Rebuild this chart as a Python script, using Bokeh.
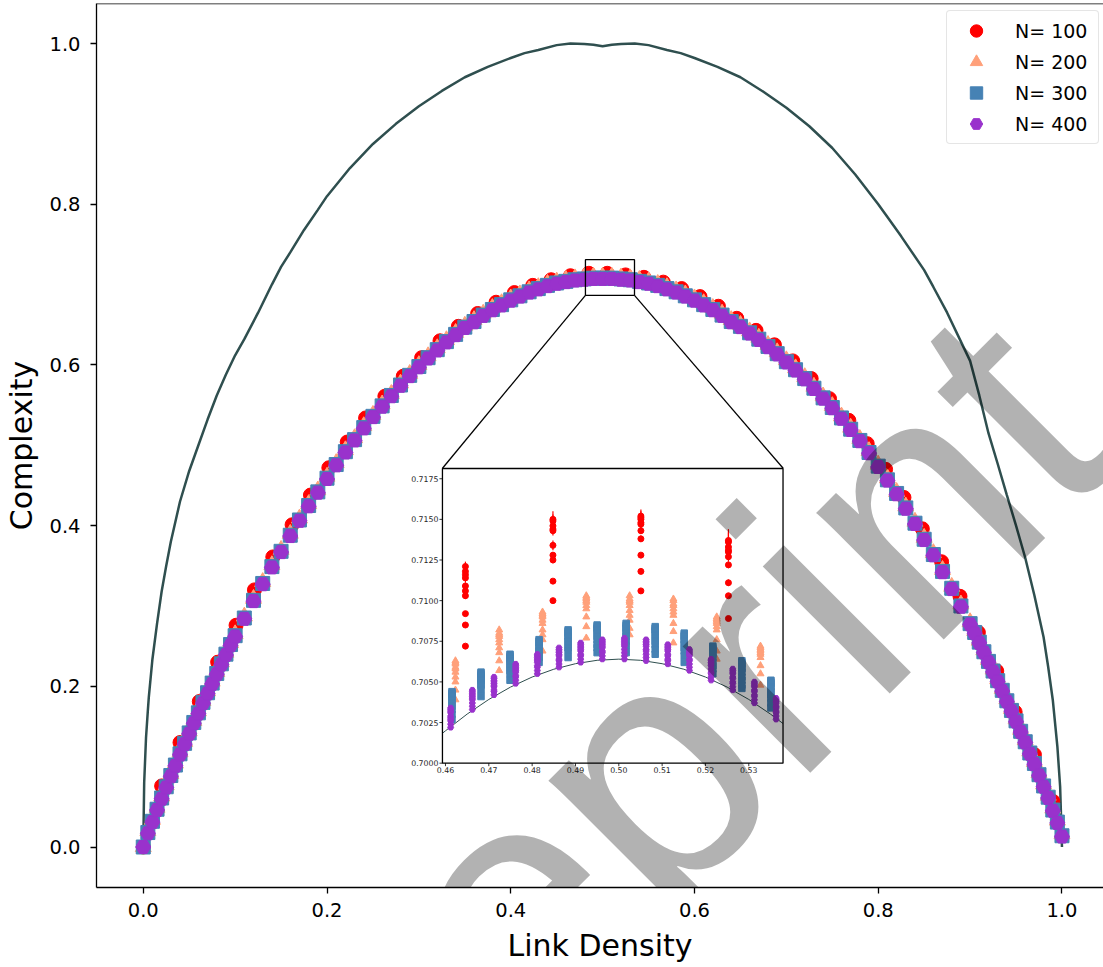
import math
from bokeh.plotting import figure
from bokeh.models import (Range1d, FixedTicker, NumeralTickFormatter, Legend,
                          LegendItem, Label, Span)
from bokeh.core.properties import value
from bokeh.embed import file_html
from bokeh.resources import INLINE

FONT = "DejaVu Sans"
MARK_FONT = "Liberation Sans"

# ---------------- data ----------------
UPPER_X = [0.0, 0.001, 0.003, 0.005, 0.006, 0.01, 0.015, 0.02, 0.025, 0.03, 0.04, 0.05,
           0.06, 0.07, 0.08, 0.09, 0.10, 0.11, 0.125, 0.14, 0.15, 0.16, 0.175, 0.19,
           0.20, 0.225, 0.25, 0.275, 0.30, 0.325, 0.35, 0.375, 0.40, 0.415, 0.43,
           0.45, 0.465, 0.48, 0.49, 0.50, 0.51, 0.52, 0.535, 0.55, 0.57, 0.585,
           0.60, 0.625, 0.65, 0.675, 0.70, 0.725, 0.75, 0.775, 0.80, 0.81, 0.825,
           0.85, 0.86, 0.875, 0.89, 0.90, 0.91, 0.92, 0.93, 0.94, 0.95, 0.96,
           0.97, 0.98, 0.985, 0.99, 0.995, 0.998, 1.0]
UPPER_Y = [0.0, 0.08, 0.136, 0.17, 0.186, 0.234, 0.278, 0.318, 0.350, 0.380, 0.430, 0.468,
           0.500, 0.532, 0.562, 0.588, 0.612, 0.632, 0.665, 0.700, 0.722, 0.740, 0.768, 0.793,
           0.810, 0.845, 0.875, 0.900, 0.922, 0.941, 0.958, 0.971, 0.982, 0.988, 0.992,
           0.998, 1.0, 0.9995, 0.9985, 0.9965, 0.9985, 0.9995, 1.0, 0.998, 0.992, 0.988,
           0.982, 0.971, 0.958, 0.940, 0.920, 0.897, 0.870, 0.837, 0.800, 0.784, 0.760,
           0.718, 0.697, 0.665, 0.629, 0.605, 0.562, 0.515, 0.477, 0.438, 0.400, 0.360,
           0.313, 0.261, 0.224, 0.183, 0.125, 0.075, 0.0]

MAIN_X = [0.000, 0.005, 0.010, 0.015, 0.020, 0.025, 0.030, 0.035, 0.040, 0.045,
          0.050, 0.055, 0.060, 0.065, 0.070, 0.075, 0.080, 0.085, 0.090, 0.095, 0.100,
          0.11, 0.12, 0.13, 0.14, 0.15, 0.16, 0.17, 0.18, 0.19, 0.20,
          0.21, 0.22, 0.23, 0.24, 0.25, 0.26, 0.27, 0.28, 0.29, 0.30,
          0.31, 0.32, 0.33, 0.34, 0.35, 0.36, 0.37, 0.38, 0.39, 0.40,
          0.41, 0.42, 0.43, 0.44, 0.45, 0.46, 0.47, 0.48, 0.49, 0.50,
          0.51, 0.52, 0.53, 0.54, 0.55, 0.56, 0.57, 0.58, 0.59, 0.60,
          0.61, 0.62, 0.63, 0.64, 0.65, 0.66, 0.67, 0.68, 0.69, 0.70,
          0.71, 0.72, 0.73, 0.74, 0.75, 0.76, 0.77, 0.78, 0.79, 0.80,
          0.81, 0.82, 0.83, 0.84, 0.85, 0.86, 0.87, 0.88, 0.89,
          0.900, 0.905, 0.910, 0.915, 0.920, 0.925, 0.930, 0.935, 0.940, 0.945,
          0.950, 0.955, 0.960, 0.965, 0.970, 0.975, 0.980, 0.985, 0.990, 0.995, 1.000]

PURPLE_MAIN = [0.000, 0.017, 0.031, 0.046, 0.060, 0.074, 0.088, 0.101, 0.115, 0.128,
               0.141, 0.154, 0.166, 0.179, 0.191, 0.203, 0.215, 0.227, 0.239, 0.251, 0.262,
               0.284, 0.306, 0.327, 0.348, 0.367, 0.387, 0.406, 0.424, 0.441, 0.458,
               0.475, 0.491, 0.506, 0.521, 0.535, 0.548, 0.561, 0.574, 0.586, 0.597,
               0.608, 0.618, 0.628, 0.637, 0.646, 0.653, 0.661, 0.668, 0.674, 0.680,
               0.685, 0.690, 0.694, 0.698, 0.701, 0.703, 0.705, 0.706, 0.707, 0.707,
               0.707, 0.706, 0.705, 0.703, 0.701, 0.698, 0.694, 0.690, 0.685, 0.680,
               0.674, 0.668, 0.661, 0.653, 0.647, 0.639, 0.631, 0.622, 0.613, 0.603,
               0.593, 0.582, 0.570, 0.558, 0.546, 0.533, 0.519, 0.505, 0.490, 0.473,
               0.456, 0.439, 0.421, 0.402, 0.382, 0.363, 0.342, 0.321, 0.299,
               0.277, 0.266, 0.254, 0.242, 0.230, 0.218, 0.206, 0.194, 0.181, 0.169,
               0.156, 0.143, 0.130, 0.116, 0.103, 0.089, 0.075, 0.061, 0.045, 0.030, 0.013]

BLUE_MAIN = [0.000, 0.018, 0.032, 0.047, 0.061, 0.075, 0.089, 0.102, 0.116, 0.129,
             0.142, 0.155, 0.167, 0.180, 0.192, 0.204, 0.216, 0.228, 0.240, 0.252, 0.263,
             0.285, 0.307, 0.328, 0.349, 0.368, 0.388, 0.407, 0.425, 0.442, 0.459,
             0.476, 0.492, 0.507, 0.522, 0.536, 0.549, 0.562, 0.575, 0.587, 0.598,
             0.609, 0.619, 0.629, 0.638, 0.647, 0.654, 0.662, 0.669, 0.675, 0.681,
             0.686, 0.691, 0.695, 0.699, 0.702, 0.704, 0.706, 0.707, 0.708, 0.708,
             0.708, 0.707, 0.706, 0.704, 0.702, 0.699, 0.695, 0.691, 0.686, 0.681,
             0.675, 0.669, 0.662, 0.654, 0.648, 0.640, 0.632, 0.623, 0.614, 0.604,
             0.594, 0.583, 0.571, 0.559, 0.547, 0.534, 0.520, 0.506, 0.491, 0.474,
             0.457, 0.440, 0.422, 0.403, 0.383, 0.364, 0.343, 0.322, 0.300,
             0.278, 0.267, 0.255, 0.243, 0.231, 0.219, 0.207, 0.195, 0.182, 0.170,
             0.157, 0.144, 0.131, 0.117, 0.104, 0.090, 0.076, 0.062, 0.046, 0.031, 0.014]

ORANGE_MAIN = [0.000, 0.020, 0.034, 0.049, 0.063, 0.077, 0.091, 0.104, 0.118, 0.131,
               0.144, 0.157, 0.169, 0.182, 0.194, 0.206, 0.218, 0.230, 0.242, 0.254, 0.265,
               0.287, 0.309, 0.330, 0.351, 0.370, 0.390, 0.409, 0.427, 0.444, 0.461,
               0.478, 0.494, 0.509, 0.524, 0.538, 0.551, 0.564, 0.577, 0.589, 0.600,
               0.611, 0.621, 0.631, 0.640, 0.649, 0.656, 0.664, 0.671, 0.677, 0.683,
               0.688, 0.693, 0.697, 0.701, 0.704, 0.706, 0.708, 0.709, 0.710, 0.710,
               0.710, 0.709, 0.708, 0.706, 0.704, 0.701, 0.697, 0.693, 0.688, 0.683,
               0.677, 0.671, 0.664, 0.656, 0.650, 0.642, 0.634, 0.625, 0.616, 0.606,
               0.596, 0.585, 0.573, 0.561, 0.549, 0.536, 0.522, 0.508, 0.493, 0.476,
               0.459, 0.442, 0.424, 0.405, 0.385, 0.366, 0.345, 0.324, 0.302,
               0.280, 0.269, 0.257, 0.245, 0.233, 0.221, 0.209, 0.197, 0.184, 0.172,
               0.159, 0.146, 0.133, 0.119, 0.106, 0.092, 0.078, 0.064, 0.048, 0.033, 0.016]

RED_MAIN_X = [0.000, 0.020, 0.040, 0.061, 0.081, 0.101, 0.121, 0.141, 0.162, 0.182,
              0.202, 0.222, 0.242, 0.263, 0.283, 0.303, 0.323, 0.343, 0.364, 0.384,
              0.404, 0.424, 0.444, 0.465, 0.485, 0.505, 0.525, 0.545, 0.566, 0.586,
              0.606, 0.626, 0.646, 0.667, 0.687, 0.707, 0.727, 0.747, 0.768, 0.788,
              0.808, 0.828, 0.848, 0.869, 0.889, 0.909, 0.929, 0.949, 0.970, 0.990]
RED_MAIN_Y = [0.000, 0.076, 0.130, 0.181, 0.230, 0.276, 0.320, 0.361, 0.401, 0.438,
              0.472, 0.504, 0.534, 0.561, 0.586, 0.609, 0.630, 0.648, 0.664, 0.678,
              0.690, 0.699, 0.706, 0.711, 0.714, 0.714, 0.712, 0.709, 0.703, 0.695,
              0.685, 0.673, 0.658, 0.643, 0.625, 0.605, 0.583, 0.558, 0.531, 0.502,
              0.470, 0.435, 0.396, 0.355, 0.312, 0.267, 0.219, 0.168, 0.115, 0.057]

# inset data
INSET_CURVE_X = [0.4593, 0.460, 0.465, 0.470, 0.475, 0.480, 0.485, 0.490, 0.495,
                 0.500, 0.505, 0.510, 0.515, 0.520, 0.525, 0.530, 0.535, 0.5379]
INSET_CURVE_Y = [0.70184, 0.70199, 0.70302, 0.70392, 0.70468, 0.70530, 0.70578, 0.70612, 0.70633,
                 0.70640, 0.70633, 0.70612, 0.70578, 0.70530, 0.70468, 0.70392, 0.70302, 0.70244]

RED_INSET_X = [0.4646, 0.4848, 0.5051, 0.5253]
RED_INSET_Y = [
    [0.7121, 0.7118, 0.7116, 0.7114, 0.7109, 0.7106, 0.7103, 0.7092, 0.7085, 0.7072],
    [0.7150, 0.7149, 0.7146, 0.7144, 0.7143, 0.7134, 0.7128, 0.7125, 0.7112, 0.7100],
    [0.7152, 0.7151, 0.7150, 0.7148, 0.7147, 0.7143, 0.7138, 0.7128, 0.7118, 0.7106],
    [0.7137, 0.7136, 0.7133, 0.7131, 0.7130, 0.7127, 0.7122, 0.7111, 0.7103, 0.7089]]
RED_INSET_ERR = [
    [0.0003, 0.0003, 0.0003, 0.0003, 0.0002, 0.0002, 0.0002, 0.0001, 0.0001, 0.00005],
    [0.0005, 0.0004, 0.0004, 0.0003, 0.0003, 0.0003, 0.0002, 0.0002, 0.0001, 0.00005],
    [0.0004, 0.0004, 0.0003, 0.0003, 0.0003, 0.0002, 0.0002, 0.0001, 0.0001, 0.00005],
    [0.0007, 0.0006, 0.0005, 0.0004, 0.0004, 0.0003, 0.0002, 0.0002, 0.0001, 0.00005]]

ORANGE_INSET_X = [0.4623, 0.4724, 0.4824, 0.4925, 0.5025, 0.5126, 0.5226, 0.5327]
ORANGE_INSET_Y = [
    [0.7063, 0.7062, 0.7061, 0.7059, 0.7058, 0.7056, 0.7053, 0.7050, 0.7045, 0.7039],
    [0.7082, 0.7080, 0.7079, 0.7078, 0.7076, 0.7074, 0.7071, 0.7068, 0.7063, 0.7057],
    [0.7093, 0.7092, 0.7091, 0.7090, 0.7088, 0.7086, 0.7082, 0.7079, 0.7076, 0.7069],
    [0.7103, 0.7102, 0.7101, 0.7100, 0.7099, 0.7097, 0.7095, 0.7090, 0.7084, 0.7077],
    [0.7103, 0.7101, 0.7100, 0.7099, 0.7097, 0.7094, 0.7091, 0.7088, 0.7083, 0.7079],
    [0.7101, 0.7100, 0.7098, 0.7097, 0.7095, 0.7093, 0.7091, 0.7086, 0.7081, 0.7074],
    [0.7090, 0.7089, 0.7088, 0.7087, 0.7086, 0.7084, 0.7082, 0.7076, 0.7069, 0.7064],
    [0.7072, 0.7071, 0.7070, 0.7069, 0.7068, 0.7067, 0.7065, 0.7060, 0.7055, 0.7048]]

BLUE_INSET_X = [0.4615, 0.4682, 0.4749, 0.4816, 0.4883, 0.4950,
                0.5017, 0.5084, 0.5151, 0.5217, 0.5284, 0.5351]
BLUE_INSET_Y = [
    [0.7044, 0.7043, 0.7042, 0.7041, 0.7039, 0.7037, 0.7035, 0.7033, 0.7030, 0.7027],
    [0.7056, 0.7055, 0.7054, 0.7053, 0.7052, 0.7051, 0.7049, 0.7048, 0.7045, 0.7041],
    [0.7067, 0.7066, 0.7065, 0.7064, 0.7063, 0.7061, 0.7059, 0.7057, 0.7055, 0.7051],
    [0.7076, 0.7075, 0.7074, 0.7072, 0.7071, 0.7069, 0.7068, 0.7066, 0.7065, 0.7062],
    [0.7082, 0.7081, 0.7080, 0.7078, 0.7077, 0.7075, 0.7073, 0.7071, 0.7069, 0.7065],
    [0.7085, 0.7084, 0.7083, 0.7082, 0.7080, 0.7078, 0.7076, 0.7073, 0.7071, 0.7068],
    [0.7086, 0.7085, 0.7084, 0.7083, 0.7081, 0.7080, 0.7078, 0.7075, 0.7072, 0.7068],
    [0.7084, 0.7083, 0.7082, 0.7081, 0.7079, 0.7077, 0.7075, 0.7073, 0.7070, 0.7067],
    [0.7080, 0.7079, 0.7078, 0.7076, 0.7075, 0.7073, 0.7071, 0.7069, 0.7066, 0.7062],
    [0.7072, 0.7071, 0.7070, 0.7068, 0.7067, 0.7065, 0.7062, 0.7060, 0.7058, 0.7055],
    [0.7063, 0.7062, 0.7061, 0.7059, 0.7058, 0.7056, 0.7053, 0.7051, 0.7048, 0.7046],
    [0.7051, 0.7050, 0.7049, 0.7047, 0.7046, 0.7044, 0.7042, 0.7040, 0.7037, 0.7034]]

PURPLE_INSET_X = [0.4612, 0.4662, 0.4712, 0.4762, 0.4812, 0.4862, 0.4912, 0.4962,
                  0.5013, 0.5063, 0.5113, 0.5163, 0.5213, 0.5263, 0.5313, 0.5363]
PURPLE_INSET_Y = [
    [0.7034, 0.7033, 0.7032, 0.7031, 0.7029, 0.7028, 0.7027, 0.7026, 0.7024, 0.7022],
    [0.7045, 0.7044, 0.7043, 0.7042, 0.7041, 0.7040, 0.7039, 0.7037, 0.7035, 0.7033],
    [0.7053, 0.7052, 0.7051, 0.7050, 0.7049, 0.7048, 0.7047, 0.7045, 0.7044, 0.7042],
    [0.7061, 0.7060, 0.7059, 0.7058, 0.7057, 0.7056, 0.7054, 0.7053, 0.7051, 0.7049],
    [0.7067, 0.7066, 0.7065, 0.7064, 0.7063, 0.7062, 0.7060, 0.7059, 0.7057, 0.7055],
    [0.7071, 0.7070, 0.7069, 0.7068, 0.7067, 0.7066, 0.7064, 0.7063, 0.7061, 0.7059],
    [0.7074, 0.7073, 0.7072, 0.7071, 0.7070, 0.7069, 0.7067, 0.7066, 0.7064, 0.7062],
    [0.7076, 0.7075, 0.7074, 0.7073, 0.7072, 0.7071, 0.7069, 0.7068, 0.7066, 0.7064],
    [0.7077, 0.7076, 0.7075, 0.7074, 0.7073, 0.7072, 0.7070, 0.7068, 0.7066, 0.7064],
    [0.7076, 0.7075, 0.7074, 0.7073, 0.7072, 0.7070, 0.7069, 0.7067, 0.7065, 0.7063],
    [0.7073, 0.7072, 0.7071, 0.7070, 0.7069, 0.7067, 0.7066, 0.7064, 0.7063, 0.7061],
    [0.7070, 0.7069, 0.7068, 0.7067, 0.7066, 0.7064, 0.7063, 0.7061, 0.7059, 0.7057],
    [0.7064, 0.7063, 0.7062, 0.7061, 0.7060, 0.7058, 0.7056, 0.7055, 0.7053, 0.7051],
    [0.7058, 0.7057, 0.7056, 0.7055, 0.7053, 0.7052, 0.7050, 0.7049, 0.7047, 0.7045],
    [0.7050, 0.7049, 0.7048, 0.7047, 0.7045, 0.7044, 0.7042, 0.7041, 0.7039, 0.7037],
    [0.7040, 0.7039, 0.7038, 0.7037, 0.7035, 0.7034, 0.7032, 0.7031, 0.7029, 0.7027]]

LEGEND_LABELS = ["N= 100", "N= 200", "N= 300", "N= 400"]
X_TICKS = [0.0, 0.2, 0.4, 0.6, 0.8, 1.0]
Y_TICKS = [0.0, 0.2, 0.4, 0.6, 0.8, 1.0]
INSET_X_TICKS = [0.46, 0.47, 0.48, 0.49, 0.50, 0.51, 0.52, 0.53]
INSET_X_LABELS = ["0.46", "0.47", "0.48", "0.49", "0.50", "0.51", "0.52", "0.53"]
INSET_Y_TICKS = [0.7000, 0.7025, 0.7050, 0.7075, 0.7100, 0.7125, 0.7150, 0.7175]
INSET_Y_LABELS = ["0.7000", "0.7025", "0.7050", "0.7075", "0.7100", "0.7125", "0.7150", "0.7175"]
INSET_XLIM = (0.4593, 0.5379)
INSET_YLIM = (0.7000, 0.71813)
ZOOM_BOX_X = (0.4813, 0.5347)
ZOOM_BOX_Y = (0.6866, 0.7310)
CONNECT_FROM_X = [0.4813, 0.5347]
CONNECT_FROM_Y = [0.6866, 0.6866]
CONNECT_TO_X = [0.3257, 0.6965]
CONNECT_TO_Y = [0.4714, 0.4714]
WATERMARK = "preprint"

RED = "#ff0000"
ORANGE = "#ffa07a"
BLUE = "#4682b4"
PURPLE = "#9932cc"
SLATE = "#2f4f4f"


def flatten(xs, ys):
    fx, fy = [], []
    for x, col in zip(xs, ys):
        for y in col:
            fx.append(x)
            fy.append(y)
    return fx, fy


p = figure(width=1103, height=967,
           x_range=Range1d(-0.0509, 1.0452), y_range=Range1d(-0.0504, 1.0498),
           output_backend="svg", toolbar_location=None,
           min_border_left=96, min_border_right=0, min_border_top=3, min_border_bottom=80)
p.extra_x_ranges = {"ix": Range1d(0.37946, 0.61186)}
p.extra_y_ranges = {"iy": Range1d(0.69235, 0.74674)}
p.grid.visible = False
p.outline_line_color = None
p.background_fill_color = "white"
p.border_fill_color = "white"

for ax in (p.xaxis[0], p.yaxis[0]):
    ax.axis_line_width = 1.3
    ax.major_tick_line_width = 1.3
    ax.major_tick_in = 0
    ax.major_tick_out = 6
    ax.minor_tick_in = 0
    ax.minor_tick_out = 0
    ax.major_label_text_font = FONT
    ax.major_label_text_font_size = "19.5px"
    ax.major_label_text_color = "black"
    ax.axis_label_text_font = FONT
    ax.axis_label_text_font_size = "30px"
    ax.axis_label_text_font_style = "normal"
    ax.axis_label_text_color = "black"
    ax.formatter = NumeralTickFormatter(format="0.0")
p.xaxis.ticker = FixedTicker(ticks=X_TICKS)
p.yaxis.ticker = FixedTicker(ticks=Y_TICKS)
p.xaxis.axis_label = "Link Density"
p.yaxis.axis_label = "Complexity"
p.xaxis.major_label_standoff = 9
p.yaxis.major_label_standoff = 10
p.xaxis.axis_label_standoff = 8
p.yaxis.axis_label_standoff = 7

p.add_layout(Span(location=1.0498, dimension="width", line_color="black", line_width=1.3))

# upper bound curve
p.line(UPPER_X, UPPER_Y, line_color=SLATE, line_width=2.5)

# main series
r_red = p.scatter(RED_MAIN_X, RED_MAIN_Y, marker="circle", size=14, color=RED)
r_orange = p.scatter(MAIN_X, ORANGE_MAIN, marker="triangle", size=16, color=ORANGE)
r_blue = p.scatter(MAIN_X, BLUE_MAIN, marker="square", size=14, color=BLUE)

try:
    from bokeh.models import NGon  # noqa: F401
    HAS_NGON = True
except Exception:
    HAS_NGON = False

if HAS_NGON:
    r_purple = p.ngon(x=MAIN_X, y=PURPLE_MAIN, radius=8, radius_units="screen", n=5,
                      angle=math.pi / 2, fill_color=PURPLE, line_color=PURPLE)
else:
    r_purple = p.scatter(MAIN_X, PURPLE_MAIN, marker="hex", size=15, color=PURPLE)

# zoom box and connectors
p.quad(left=[ZOOM_BOX_X[0]], right=[ZOOM_BOX_X[1]], bottom=[ZOOM_BOX_Y[0]], top=[ZOOM_BOX_Y[1]],
       fill_color=None, line_color="black", line_width=1.3)
p.segment(x0=CONNECT_FROM_X, y0=CONNECT_FROM_Y, x1=CONNECT_TO_X, y1=CONNECT_TO_Y,
          line_color="black", line_width=1.3)

# inset
IR = dict(x_range_name="ix", y_range_name="iy")
p.quad(left=[INSET_XLIM[0]], right=[INSET_XLIM[1]], bottom=[INSET_YLIM[0]], top=[INSET_YLIM[1]],
       fill_color="white", line_color=None, **IR)
p.line(INSET_CURVE_X, INSET_CURVE_Y, line_color=SLATE, line_width=1.0, **IR)

rx, ry = flatten(RED_INSET_X, RED_INSET_Y)
_, re = flatten(RED_INSET_X, RED_INSET_ERR)
p.segment(x0=rx, y0=[a - b for a, b in zip(ry, re)], x1=rx, y1=[a + b for a, b in zip(ry, re)],
          line_color=RED, line_width=1.2, **IR)
p.scatter(rx, ry, marker="circle", size=6, color=RED, **IR)

ox, oy = flatten(ORANGE_INSET_X, ORANGE_INSET_Y)
p.scatter(ox, oy, marker="triangle", size=7, color=ORANGE, **IR)
bx, by = flatten(BLUE_INSET_X, BLUE_INSET_Y)
p.scatter(bx, by, marker="square", size=6.5, color=BLUE, **IR)
px_, py_ = flatten(PURPLE_INSET_X, PURPLE_INSET_Y)
if HAS_NGON:
    p.ngon(x=px_, y=py_, radius=3.2, radius_units="screen", n=5, angle=math.pi / 2,
           fill_color=PURPLE, line_color=PURPLE, **IR)
else:
    p.scatter(px_, py_, marker="hex", size=6, color=PURPLE, **IR)

p.quad(left=[INSET_XLIM[0]], right=[INSET_XLIM[1]], bottom=[INSET_YLIM[0]], top=[INSET_YLIM[1]],
       fill_color=None, line_color="black", line_width=1.3, **IR)
p.ray(x=[INSET_XLIM[0]] * len(INSET_Y_TICKS), y=INSET_Y_TICKS, length=3, length_units="screen",
      angle=math.pi, line_color="black", line_width=0.8, **IR)
p.ray(x=INSET_X_TICKS, y=[INSET_YLIM[0]] * len(INSET_X_TICKS), length=3, length_units="screen",
      angle=-math.pi / 2, line_color="black", line_width=0.8, **IR)
p.text(x=[INSET_XLIM[0]] * len(INSET_Y_TICKS), y=INSET_Y_TICKS, text=INSET_Y_LABELS,
       x_offset=-4, text_align="right", text_baseline="middle",
       text_font=value(FONT), text_font_size=value("7.8px"), text_color="#262626", **IR)
p.text(x=INSET_X_TICKS, y=[INSET_YLIM[0]] * len(INSET_X_TICKS), text=INSET_X_LABELS,
       y_offset=4, text_align="center", text_baseline="top",
       text_font=value(FONT), text_font_size=value("7.8px"), text_color="#262626", **IR)

# legend
lr = [r_red, r_orange, r_blue, r_purple]
legend = Legend(items=[LegendItem(label=LEGEND_LABELS[i], renderers=[lr[i]]) for i in range(4)],
                location=(850, 743), orientation="vertical",
                glyph_width=50, glyph_height=31, label_standoff=14, label_width=79,
                spacing=0, padding=4, margin=0,
                label_text_font=FONT, label_text_font_size="19px", label_text_color="black",
                border_line_color="#cccccc", border_line_width=1,
                background_fill_color="white", background_fill_alpha=0.8)
if "border_radius" in Legend.properties():
    legend.border_radius = 4
p.add_layout(legend)

# watermark
p.add_layout(Label(x=0.0933, y=-0.4235, text=WATERMARK, angle=math.pi / 4,
                   text_font=MARK_FONT, text_font_size="340px", text_color="black",
                   text_alpha=0.3, text_align="left", text_baseline="alphabetic"))

open("out.html", "w").write(file_html(p, INLINE))
